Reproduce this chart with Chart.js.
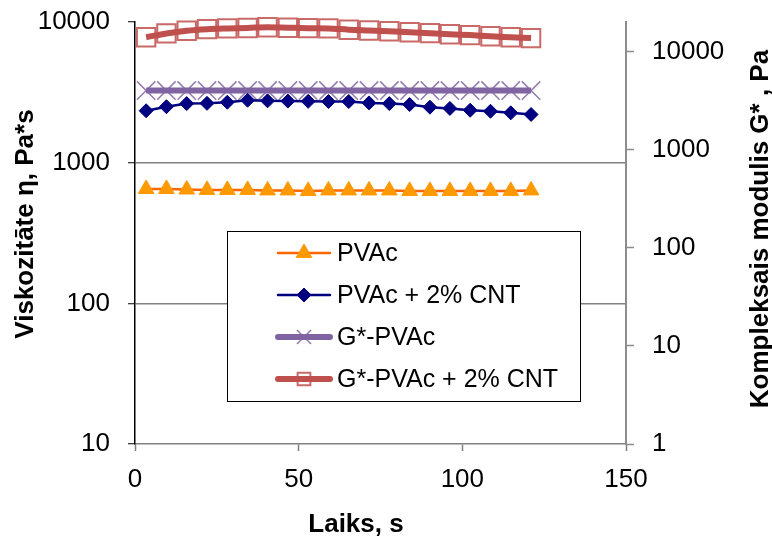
<!DOCTYPE html>
<html>
<head>
<meta charset="utf-8">
<script src="https://cdn.jsdelivr.net/npm/chart.js@4/dist/chart.umd.min.js"></script>
<style>
  html, body { margin: 0; padding: 0; background: #fff; }
  canvas { display: block; }
</style>
</head>
<body>
<canvas id="viscChart" width="772" height="536"></canvas>
<script>
// measurement times, s
const times = [3.4, 9.6, 15.8, 22.0, 28.2, 34.4, 40.5, 46.7, 52.9, 59.1,
               65.3, 71.5, 77.7, 83.9, 90.1, 96.2, 102.4, 108.6, 114.8, 121.0];

// viscosity, Pa*s (left axis)
const etaPVAc = [650, 650, 645, 640, 640, 640, 635, 635, 630, 635,
                 635, 635, 635, 630, 630, 630, 630, 630, 630, 635];
const etaPVAcCNT = [2340, 2500, 2630, 2640, 2690, 2780, 2750, 2740, 2730, 2720,
                    2720, 2660, 2630, 2590, 2480, 2430, 2360, 2320, 2260, 2200];

// complex modulus G*, Pa (right axis)
const gPVAc = [4000, 4000, 4000, 4000, 4000, 4000, 4000, 4000, 4000, 4000,
               4000, 4000, 4000, 4000, 4000, 4000, 4000, 4000, 4000, 4000];
const gPVAcCNT = [14000, 15300, 16300, 16900, 17200, 17400, 17700, 17500, 17300, 17200,
                  16700, 16400, 16100, 15700, 15400, 15000, 14700, 14300, 14000, 13700];

const seriesNames = ['PVAc', 'PVAc + 2% CNT', 'G*-PVAc', 'G*-PVAc + 2% CNT'];
const xTicks = [0, 50, 100, 150];
const etaTicks = [10, 100, 1000, 10000];
const gTicks = [1, 10, 100, 1000, 10000];

const FONT = "'Liberation Sans', Arial, sans-serif";
Chart.defaults.font.family = FONT;
Chart.defaults.color = '#000';

function pts(ys) {
  return ys.map((y, i) => ({ x: times[i], y: y }));
}

// fixed box sizes for the axes, no extra label padding
function fixWidth(w) {
  return axis => { axis.width = w; axis.paddingTop = 0; axis.paddingBottom = 0; };
}

const datasets = [
  {
    label: seriesNames[0],
    data: pts(etaPVAc),
    yAxisID: 'y',
    borderColor: '#FF6600',
    borderWidth: 2.5,
    pointStyle: 'triangle',
    pointRadius: 9,
    pointBackgroundColor: '#FF9900',
    pointBorderColor: '#FF9900',
    pointBorderWidth: 1,
    legendRadius: 9
  },
  {
    label: seriesNames[1],
    data: pts(etaPVAcCNT),
    yAxisID: 'y',
    borderColor: '#000080',
    borderWidth: 2.5,
    pointStyle: 'rectRot',
    pointRadius: 7,
    pointBackgroundColor: '#000080',
    pointBorderColor: '#000080',
    pointBorderWidth: 1,
    legendRadius: 7
  },
  {
    label: seriesNames[2],
    data: pts(gPVAc),
    yAxisID: 'y1',
    borderColor: '#8064A2',
    borderWidth: 6,
    pointStyle: 'crossRot',
    pointRadius: 13,
    pointBackgroundColor: 'rgba(128,100,162,0.85)',
    pointBorderColor: 'rgba(128,100,162,0.85)',
    pointBorderWidth: 1.5,
    legendRadius: 10
  },
  {
    label: seriesNames[3],
    data: pts(gPVAcCNT),
    yAxisID: 'y1',
    borderColor: '#C0504D',
    borderWidth: 6,
    cubicInterpolationMode: 'monotone',
    pointStyle: 'rect',
    pointRadius: 13,
    pointBackgroundColor: 'rgba(0,0,0,0)',
    pointBorderColor: 'rgba(192,80,77,0.85)',
    pointBorderWidth: 2,
    legendRadius: 9
  }
];

// boxed legend with line + marker samples
const boxLegend = {
  id: 'boxLegend',
  afterDraw(chart) {
    const ctx = chart.ctx;
    const bx = 227, by = 231, bw = 353, bh = 170;
    ctx.save();
    ctx.fillStyle = '#fff';
    ctx.fillRect(bx, by, bw, bh);
    ctx.strokeStyle = '#000';
    ctx.lineWidth = 1;
    ctx.strokeRect(bx + 0.5, by + 0.5, bw, bh);

    chart.data.datasets.forEach((ds, i) => {
      const y = 253 + i * 42;
      ctx.strokeStyle = ds.borderColor;
      ctx.lineWidth = ds.borderWidth;
      ctx.lineCap = 'round';
      ctx.beginPath();
      ctx.moveTo(278, y);
      ctx.lineTo(330, y);
      ctx.stroke();
      ctx.lineCap = 'butt';
      ctx.fillStyle = ds.pointBackgroundColor;
      ctx.strokeStyle = ds.pointBorderColor;
      ctx.lineWidth = ds.pointBorderWidth;
      Chart.helpers.drawPoint(ctx, {
        pointStyle: ds.pointStyle,
        radius: ds.legendRadius,
        borderWidth: ds.pointBorderWidth,
        rotation: 0
      }, 304, y);

      ctx.fillStyle = '#000';
      ctx.font = '25px ' + FONT;
      ctx.textAlign = 'left';
      ctx.textBaseline = 'middle';
      ctx.fillText(ds.label, 337, y + 1);
    });
    ctx.restore();
  }
};

// axis titles
const axisTitles = {
  id: 'axisTitles',
  afterDraw(chart) {
    const ctx = chart.ctx;
    ctx.save();
    ctx.fillStyle = '#000';
    ctx.font = 'bold 26px ' + FONT;
    ctx.textAlign = 'center';
    ctx.textBaseline = 'alphabetic';
    ctx.fillText('Laiks, s', 356, 532);

    ctx.save();
    ctx.translate(33, 224);
    ctx.rotate(-Math.PI / 2);
    ctx.fillText('Viskozitāte η, Pa*s', 0, 0);
    ctx.restore();

    ctx.save();
    ctx.translate(768, 229);
    ctx.rotate(-Math.PI / 2);
    ctx.fillText('Kompleksais modulis G* , Pa', 0, 0);
    ctx.restore();
    ctx.restore();
  }
};

new Chart(document.getElementById('viscChart').getContext('2d'), {
  type: 'line',
  data: { datasets: datasets },
  options: {
    responsive: false,
    maintainAspectRatio: false,
    animation: false,
    devicePixelRatio: 1,
    clip: false,
    layout: { padding: { top: 22, left: 0, right: 0, bottom: 0 } },
    plugins: {
      legend: { display: false },
      tooltip: { enabled: false }
    },
    scales: {
      x: {
        type: 'linear',
        min: 0,
        max: 150,
        afterBuildTicks: axis => { axis.ticks = xTicks.map(v => ({ value: v })); },
        afterFit: axis => { axis.height = 92; axis.paddingLeft = 0; axis.paddingRight = 0; },
        ticks: { font: { size: 26 }, color: '#000', padding: 13, maxRotation: 0 },
        grid: { drawOnChartArea: false, tickLength: 7, tickColor: '#808080', tickWidth: 1.5 },
        border: { color: '#808080', width: 1.5 }
      },
      y: {
        type: 'logarithmic',
        position: 'left',
        min: 10,
        max: 10000,
        afterBuildTicks: axis => { axis.ticks = etaTicks.map(v => ({ value: v })); },
        afterFit: fixWidth(135),
        ticks: { font: { size: 26 }, color: '#000', padding: 18, callback: v => String(v) },
        grid: {
          color: c => (c.tick && (c.tick.value === 100 || c.tick.value === 1000)) ? '#808080' : 'rgba(0,0,0,0)',
          lineWidth: 1.5,
          tickLength: 7,
          tickColor: '#000',
          tickWidth: 1
        },
        border: { color: '#000', width: 1.5 }
      },
      y1: {
        type: 'logarithmic',
        position: 'right',
        min: 1,
        max: 20000,
        afterBuildTicks: axis => { axis.ticks = gTicks.map(v => ({ value: v })); },
        afterFit: fixWidth(146),
        ticks: { font: { size: 26 }, color: '#000', padding: 18, callback: v => String(v) },
        grid: { drawOnChartArea: false, tickLength: 8, tickColor: '#8c8c8c', tickWidth: 1.5 },
        border: { color: '#8c8c8c', width: 2 }
      }
    }
  },
  plugins: [boxLegend, axisTitles]
});
</script>
</body>
</html>
